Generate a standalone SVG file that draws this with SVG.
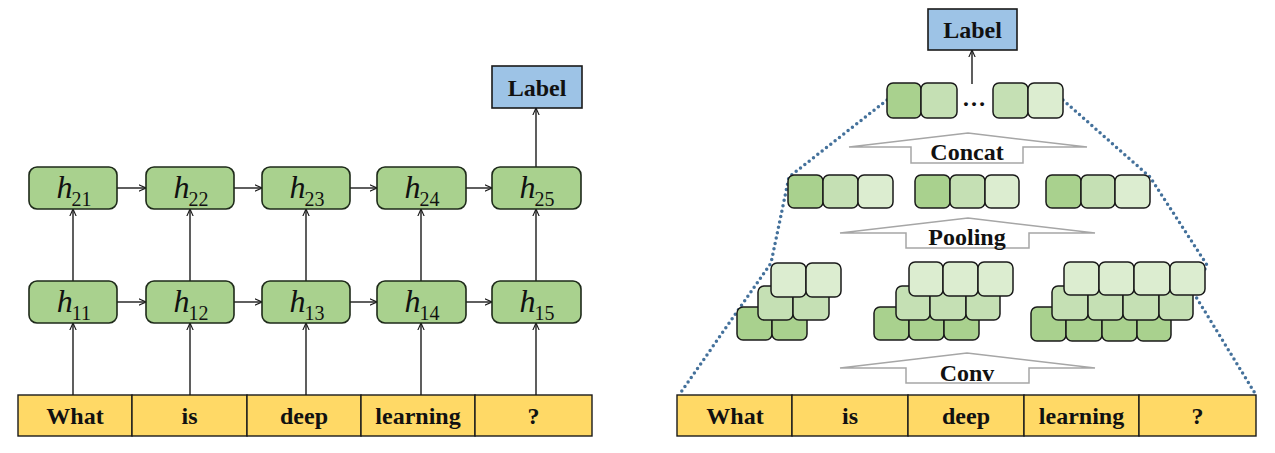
<svg xmlns="http://www.w3.org/2000/svg" width="1275" height="453" viewBox="0 0 1275 453">
<defs>
<style>
.bg{fill:#ffffff}
.hbox{fill:#a9d18e;stroke:#1e2a1a;stroke-width:1.6}
.lab{fill:#9dc3e6;stroke:#1a1a1a;stroke-width:1.6}
.word{fill:#ffd966;stroke:#1a1a1a;stroke-width:1.4}
.wt{font-family:"Liberation Serif","Times New Roman",serif;font-weight:bold;font-size:24px;fill:#111;text-anchor:middle}
.hi{font-family:"Liberation Serif","Times New Roman",serif;font-style:italic;font-size:32px;fill:#111}
.sub{font-family:"Liberation Serif","Times New Roman",serif;font-size:20px;fill:#111}
.conn{stroke:#1a1a1a;stroke-width:1.4;fill:none;marker-end:url(#ah)}
.sq{stroke:#1a1a1a;stroke-width:1.5}
.d{fill:#a9d18e}
.m{fill:#c5e0b4}
.l{fill:#dcedd0}
.garrow{fill:#ffffff;stroke:#a6a6a6;stroke-width:1.5}
.dot{fill:none;stroke:#44719b;stroke-width:3.5;stroke-dasharray:0 5.5;stroke-linecap:round}
</style>
<marker id="ah" viewBox="0 0 10 10" refX="9" refY="5" markerWidth="8" markerHeight="8" orient="auto" markerUnits="userSpaceOnUse">
<path d="M0,1 L9,5 L0,9" fill="none" stroke="#1a1a1a" stroke-width="1.4"/>
</marker>
</defs>
<rect class="bg" x="0" y="0" width="1275" height="453"/>

<!-- LEFT: RNN -->
<g id="connectors-left">
<line class="conn" x1="73" y1="395" x2="73" y2="323"/>
<line class="conn" x1="190" y1="395" x2="190" y2="323"/>
<line class="conn" x1="306" y1="395" x2="306" y2="323"/>
<line class="conn" x1="421" y1="395" x2="421" y2="323"/>
<line class="conn" x1="536" y1="395" x2="536" y2="323"/>
<line class="conn" x1="73" y1="281" x2="73" y2="209"/>
<line class="conn" x1="190" y1="281" x2="190" y2="209"/>
<line class="conn" x1="306" y1="281" x2="306" y2="209"/>
<line class="conn" x1="421" y1="281" x2="421" y2="209"/>
<line class="conn" x1="536" y1="281" x2="536" y2="209"/>
<line class="conn" x1="117" y1="302" x2="146" y2="302"/>
<line class="conn" x1="234" y1="302" x2="262" y2="302"/>
<line class="conn" x1="350" y1="302" x2="377" y2="302"/>
<line class="conn" x1="466" y1="302" x2="492" y2="302"/>
<line class="conn" x1="117" y1="188" x2="146" y2="188"/>
<line class="conn" x1="234" y1="188" x2="262" y2="188"/>
<line class="conn" x1="350" y1="188" x2="377" y2="188"/>
<line class="conn" x1="466" y1="188" x2="492" y2="188"/>
<line class="conn" x1="536" y1="167" x2="536" y2="108"/>
</g>

<g id="words-left">
<rect class="word" x="18" y="395" width="114" height="41"/>
<rect class="word" x="132" y="395" width="115" height="41"/>
<rect class="word" x="247" y="395" width="114" height="41"/>
<rect class="word" x="361" y="395" width="114" height="41"/>
<rect class="word" x="475" y="395" width="117" height="41"/>
<text class="wt" x="75" y="424">What</text>
<text class="wt" x="189.5" y="424">is</text>
<text class="wt" x="304" y="424">deep</text>
<text class="wt" x="418" y="424">learning</text>
<text class="wt" x="533.5" y="424">?</text>
</g>

<g id="h11"><rect class="hbox" x="29" y="281" width="88" height="42" rx="8"/><text x="74" y="312" text-anchor="middle"><tspan class="hi">h</tspan><tspan class="sub" dy="8" dx="-1">11</tspan></text></g>
<g id="h12"><rect class="hbox" x="146" y="281" width="88" height="42" rx="8"/><text x="191" y="312" text-anchor="middle"><tspan class="hi">h</tspan><tspan class="sub" dy="8" dx="-1">12</tspan></text></g>
<g id="h13"><rect class="hbox" x="262" y="281" width="88" height="42" rx="8"/><text x="307" y="312" text-anchor="middle"><tspan class="hi">h</tspan><tspan class="sub" dy="8" dx="-1">13</tspan></text></g>
<g id="h14"><rect class="hbox" x="377" y="281" width="89" height="42" rx="8"/><text x="422" y="312" text-anchor="middle"><tspan class="hi">h</tspan><tspan class="sub" dy="8" dx="-1">14</tspan></text></g>
<g id="h15"><rect class="hbox" x="492" y="281" width="89" height="42" rx="8"/><text x="537" y="312" text-anchor="middle"><tspan class="hi">h</tspan><tspan class="sub" dy="8" dx="-1">15</tspan></text></g>
<g id="h21"><rect class="hbox" x="29" y="167" width="88" height="42" rx="8"/><text x="74" y="198" text-anchor="middle"><tspan class="hi">h</tspan><tspan class="sub" dy="8" dx="-1">21</tspan></text></g>
<g id="h22"><rect class="hbox" x="146" y="167" width="88" height="42" rx="8"/><text x="191" y="198" text-anchor="middle"><tspan class="hi">h</tspan><tspan class="sub" dy="8" dx="-1">22</tspan></text></g>
<g id="h23"><rect class="hbox" x="262" y="167" width="88" height="42" rx="8"/><text x="307" y="198" text-anchor="middle"><tspan class="hi">h</tspan><tspan class="sub" dy="8" dx="-1">23</tspan></text></g>
<g id="h24"><rect class="hbox" x="377" y="167" width="89" height="42" rx="8"/><text x="422" y="198" text-anchor="middle"><tspan class="hi">h</tspan><tspan class="sub" dy="8" dx="-1">24</tspan></text></g>
<g id="h25"><rect class="hbox" x="492" y="167" width="89" height="42" rx="8"/><text x="537" y="198" text-anchor="middle"><tspan class="hi">h</tspan><tspan class="sub" dy="8" dx="-1">25</tspan></text></g>
<g id="label-left"><rect class="lab" x="492" y="66" width="90" height="42"/><text class="wt" x="537" y="96">Label</text></g>

<!-- RIGHT: CNN -->
<g id="dotted-lines">
<path class="dot" d="M887,100 L789,177 L771,263 L679,395"/>
<path class="dot" d="M1063,100 L1150,177 L1207,265 L1193,292 L1256,395"/>
</g>

<g id="words-right">
<rect class="word" x="677" y="395" width="115" height="41"/>
<rect class="word" x="792" y="395" width="116" height="41"/>
<rect class="word" x="908" y="395" width="116" height="41"/>
<rect class="word" x="1024" y="395" width="115" height="41"/>
<rect class="word" x="1139" y="395" width="117" height="41"/>
<text class="wt" x="735" y="424">What</text>
<text class="wt" x="850" y="424">is</text>
<text class="wt" x="966" y="424">deep</text>
<text class="wt" x="1081.5" y="424">learning</text>
<text class="wt" x="1197.5" y="424">?</text>
</g>

<g id="conv-arrow"><path class="garrow" d="M840,368 L967,353 L1095,368 L1029,368 L1029,383 L906,383 L906,368 Z"/><text class="wt" x="967" y="381">Conv</text></g>
<g id="pool-arrow"><path class="garrow" d="M840,233 L968,218 L1095,233 L1029,233 L1029,248 L906,248 L906,233 Z"/><text class="wt" x="967" y="245">Pooling</text></g>
<g id="concat-arrow"><path class="garrow" d="M849,147 L968,133 L1087,147 L1023,147 L1023,163 L911,163 L911,147 Z"/><text class="wt" x="967" y="160">Concat</text></g>

<g id="feature-map-1">
<rect class="sq d" x="737" y="307" width="35" height="33" rx="6"/>
<rect class="sq d" x="772" y="307" width="35" height="33" rx="6"/>
<rect class="sq m" x="758" y="286" width="35" height="34" rx="6"/>
<rect class="sq m" x="793" y="286" width="36" height="34" rx="6"/>
<rect class="sq l" x="771" y="263" width="35" height="34" rx="6"/>
<rect class="sq l" x="806" y="263" width="35" height="34" rx="6"/>
</g>
<g id="feature-map-2">
<rect class="sq d" x="874" y="307" width="35" height="33" rx="6"/>
<rect class="sq d" x="909" y="307" width="35" height="33" rx="6"/>
<rect class="sq d" x="944" y="307" width="35" height="33" rx="6"/>
<rect class="sq m" x="896" y="286" width="34" height="34" rx="6"/>
<rect class="sq m" x="930" y="286" width="36" height="34" rx="6"/>
<rect class="sq m" x="966" y="286" width="34" height="34" rx="6"/>
<rect class="sq l" x="909" y="262" width="34" height="34" rx="6"/>
<rect class="sq l" x="943" y="262" width="35" height="34" rx="6"/>
<rect class="sq l" x="978" y="262" width="35" height="34" rx="6"/>
</g>
<g id="feature-map-3">
<rect class="sq d" x="1031" y="307" width="35" height="34" rx="6"/>
<rect class="sq d" x="1066" y="307" width="36" height="34" rx="6"/>
<rect class="sq d" x="1102" y="307" width="35" height="34" rx="6"/>
<rect class="sq d" x="1137" y="307" width="34" height="34" rx="6"/>
<rect class="sq m" x="1052" y="286" width="36" height="34" rx="6"/>
<rect class="sq m" x="1088" y="286" width="35" height="34" rx="6"/>
<rect class="sq m" x="1123" y="286" width="36" height="34" rx="6"/>
<rect class="sq m" x="1159" y="286" width="34" height="34" rx="6"/>
<rect class="sq l" x="1064" y="262" width="35" height="33" rx="6"/>
<rect class="sq l" x="1099" y="262" width="35" height="33" rx="6"/>
<rect class="sq l" x="1134" y="262" width="36" height="33" rx="6"/>
<rect class="sq l" x="1170" y="262" width="35" height="33" rx="6"/>
</g>

<g id="pooled-1">
<rect class="sq d" x="788" y="175" width="35" height="33" rx="6"/>
<rect class="sq m" x="823" y="175" width="35" height="33" rx="6"/>
<rect class="sq l" x="858" y="175" width="35" height="33" rx="6"/>
</g>
<g id="pooled-2">
<rect class="sq d" x="915" y="175" width="35" height="33" rx="6"/>
<rect class="sq m" x="950" y="175" width="35" height="33" rx="6"/>
<rect class="sq l" x="985" y="175" width="34" height="33" rx="6"/>
</g>
<g id="pooled-3">
<rect class="sq d" x="1046" y="175" width="35" height="33" rx="6"/>
<rect class="sq m" x="1081" y="175" width="34" height="33" rx="6"/>
<rect class="sq l" x="1115" y="175" width="35" height="33" rx="6"/>
</g>

<g id="concat-vector">
<rect class="sq d" x="887" y="83" width="34" height="35" rx="6"/>
<rect class="sq m" x="921" y="83" width="36" height="35" rx="6"/>
<text class="wt" x="974" y="106">…</text>
<rect class="sq m" x="993" y="83" width="35" height="35" rx="6"/>
<rect class="sq l" x="1028" y="83" width="35" height="35" rx="6"/>
</g>

<g id="connectors-right">
<line class="conn" x1="972" y1="84" x2="972" y2="50"/>
</g>
<g id="label-right"><rect class="lab" x="928" y="9" width="89" height="41"/><text class="wt" x="972.5" y="38">Label</text></g>
</svg>
